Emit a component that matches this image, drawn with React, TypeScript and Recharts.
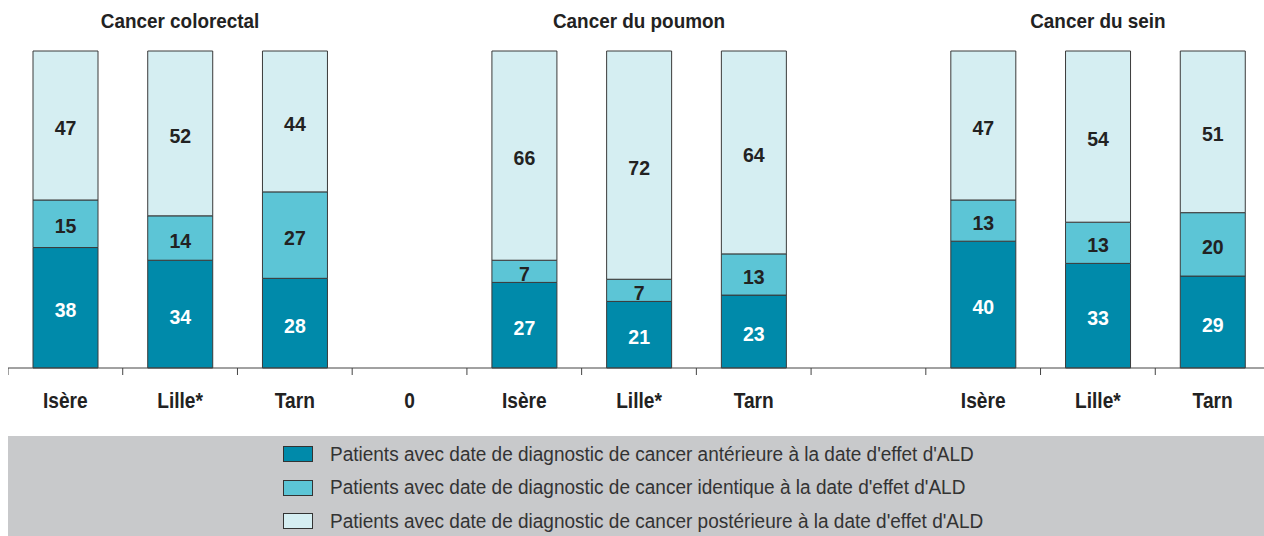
import React from 'react';
import { BarChart, Bar, XAxis, YAxis, LabelList, Legend } from 'recharts';

const categories = ['Isère', 'Lille*', 'Tarn', '0', 'Isère', 'Lille*', 'Tarn', '', 'Isère', 'Lille*', 'Tarn'];
const groupTitles = ['', 'Cancer colorectal', '', '', '', 'Cancer du poumon', '', '', '', 'Cancer du sein', ''];

// % de patients par position du diagnostic vs date d'effet d'ALD
const anterieure = [38, 34, 28, null, 27, 21, 23, null, 40, 33, 29];
const identique = [15, 14, 27, null, 7, 7, 13, null, 13, 13, 20];
const posterieure = [47, 52, 44, null, 66, 72, 64, null, 47, 54, 51];

const series = [
  { key: 'anterieure', name: "Patients avec date de diagnostic de cancer antérieure à la date d'effet d'ALD", color: '#008aaa', label: '#ffffff' },
  { key: 'identique', name: "Patients avec date de diagnostic de cancer identique à la date d'effet d'ALD", color: '#5cc5d6', label: '#222222' },
  { key: 'posterieure', name: "Patients avec date de diagnostic de cancer postérieure à la date d'effet d'ALD", color: '#d5eef2', label: '#222222' },
];

const data = categories.map((name, i) => ({
  slot: i,
  name,
  title: groupTitles[i],
  anterieure: anterieure[i],
  identique: identique[i],
  posterieure: posterieure[i],
}));

const FONT = "'Liberation Sans', Arial, sans-serif";
const CHART_W = 1262;
const BAND = CHART_W / categories.length;

// condensed look: Arial-like glyphs squeezed horizontally
const Narrow = ({ x, y, scale, size, fill, children }: any) => (
  <text
    transform={`translate(${x},${y}) scale(${scale},1)`}
    textAnchor="middle"
    fill={fill}
    fontFamily={FONT}
    fontWeight="bold"
    fontSize={size}
  >
    {children}
  </text>
);

const BottomTick = ({ x, y, payload }: any) => {
  const i = payload.value;
  return (
    <g>
      <line x1={x - BAND / 2} x2={x - BAND / 2} y1={y} y2={y + 7} stroke="#444" strokeWidth={1} />
      <Narrow x={x} y={y + 40} scale={0.87} size={22} fill="#222">
        {categories[i]}
      </Narrow>
    </g>
  );
};

const TopTick = ({ x, y, payload }: any) => {
  const i = payload.value;
  if (!groupTitles[i]) return null;
  return (
    <Narrow x={x} y={y - 23} scale={0.9} size={21} fill="#222">
      {groupTitles[i]}
    </Narrow>
  );
};

const makeLabel = (fill: string) => (props: any) => {
  const { x, y, width, height, value } = props;
  if (value == null) return null;
  return (
    <Narrow x={x + width / 2} y={y + height / 2 + 9.5} scale={0.93} size={21} fill={fill}>
      {value}
    </Narrow>
  );
};

const LegendBox = () => (
  <div style={{ width: 1256, height: 100, background: '#c8c9cb', position: 'relative', fontFamily: FONT }}>
    {series.map((s, i) => (
      <div key={s.key} style={{ position: 'absolute', left: 275, top: 7 + i * 33.5, display: 'flex', alignItems: 'center', height: 22, whiteSpace: 'nowrap' }}>
        <span style={{ display: 'inline-block', width: 30, height: 16, background: s.color, border: '1px solid #333', boxSizing: 'border-box' }} />
        <span style={{ marginLeft: 17, fontSize: 20, color: '#333', display: 'inline-block', transform: 'scaleX(0.95)', transformOrigin: 'left center' }}>
          {s.name}
        </span>
      </div>
    ))}
  </div>
);

export default function App() {
  return (
    <div style={{ width: 1256, height: 528, overflow: 'hidden', position: 'relative' }}>
      <style>{'html,body{overflow:hidden}body{margin:8px 0 0 8px}'}</style>
      <BarChart
        width={CHART_W}
        height={528}
        data={data}
        stackOffset="expand"
        barSize={65}
        margin={{ top: 13, right: 0, bottom: 108, left: 0 }}
      >
        <XAxis
          xAxisId="top"
          orientation="top"
          dataKey="slot"
          height={30}
          axisLine={false}
          tickLine={false}
          tickSize={0}
          tickMargin={0}
          tick={<TopTick />}
          interval={0}
        />
        <XAxis
          dataKey="slot"
          height={60}
          axisLine={{ stroke: '#444', strokeWidth: 1 }}
          tickLine={false}
          tickSize={0}
          tickMargin={0}
          tick={<BottomTick />}
          interval={0}
        />
        <YAxis hide domain={[0, 1]} />
        <Legend
          layout="horizontal"
          verticalAlign="middle"
          wrapperStyle={{ position: 'absolute', left: 0, top: 428, width: 1256, height: 100 }}
          content={<LegendBox />}
        />
        {series.map((s) => (
          <Bar
            key={s.key}
            dataKey={s.key}
            name={s.name}
            stackId="a"
            fill={s.color}
            stroke="#3a3a3a"
            strokeWidth={1}
            isAnimationActive={false}
          >
            <LabelList dataKey={s.key} content={makeLabel(s.label)} />
          </Bar>
        ))}
      </BarChart>
    </div>
  );
}
